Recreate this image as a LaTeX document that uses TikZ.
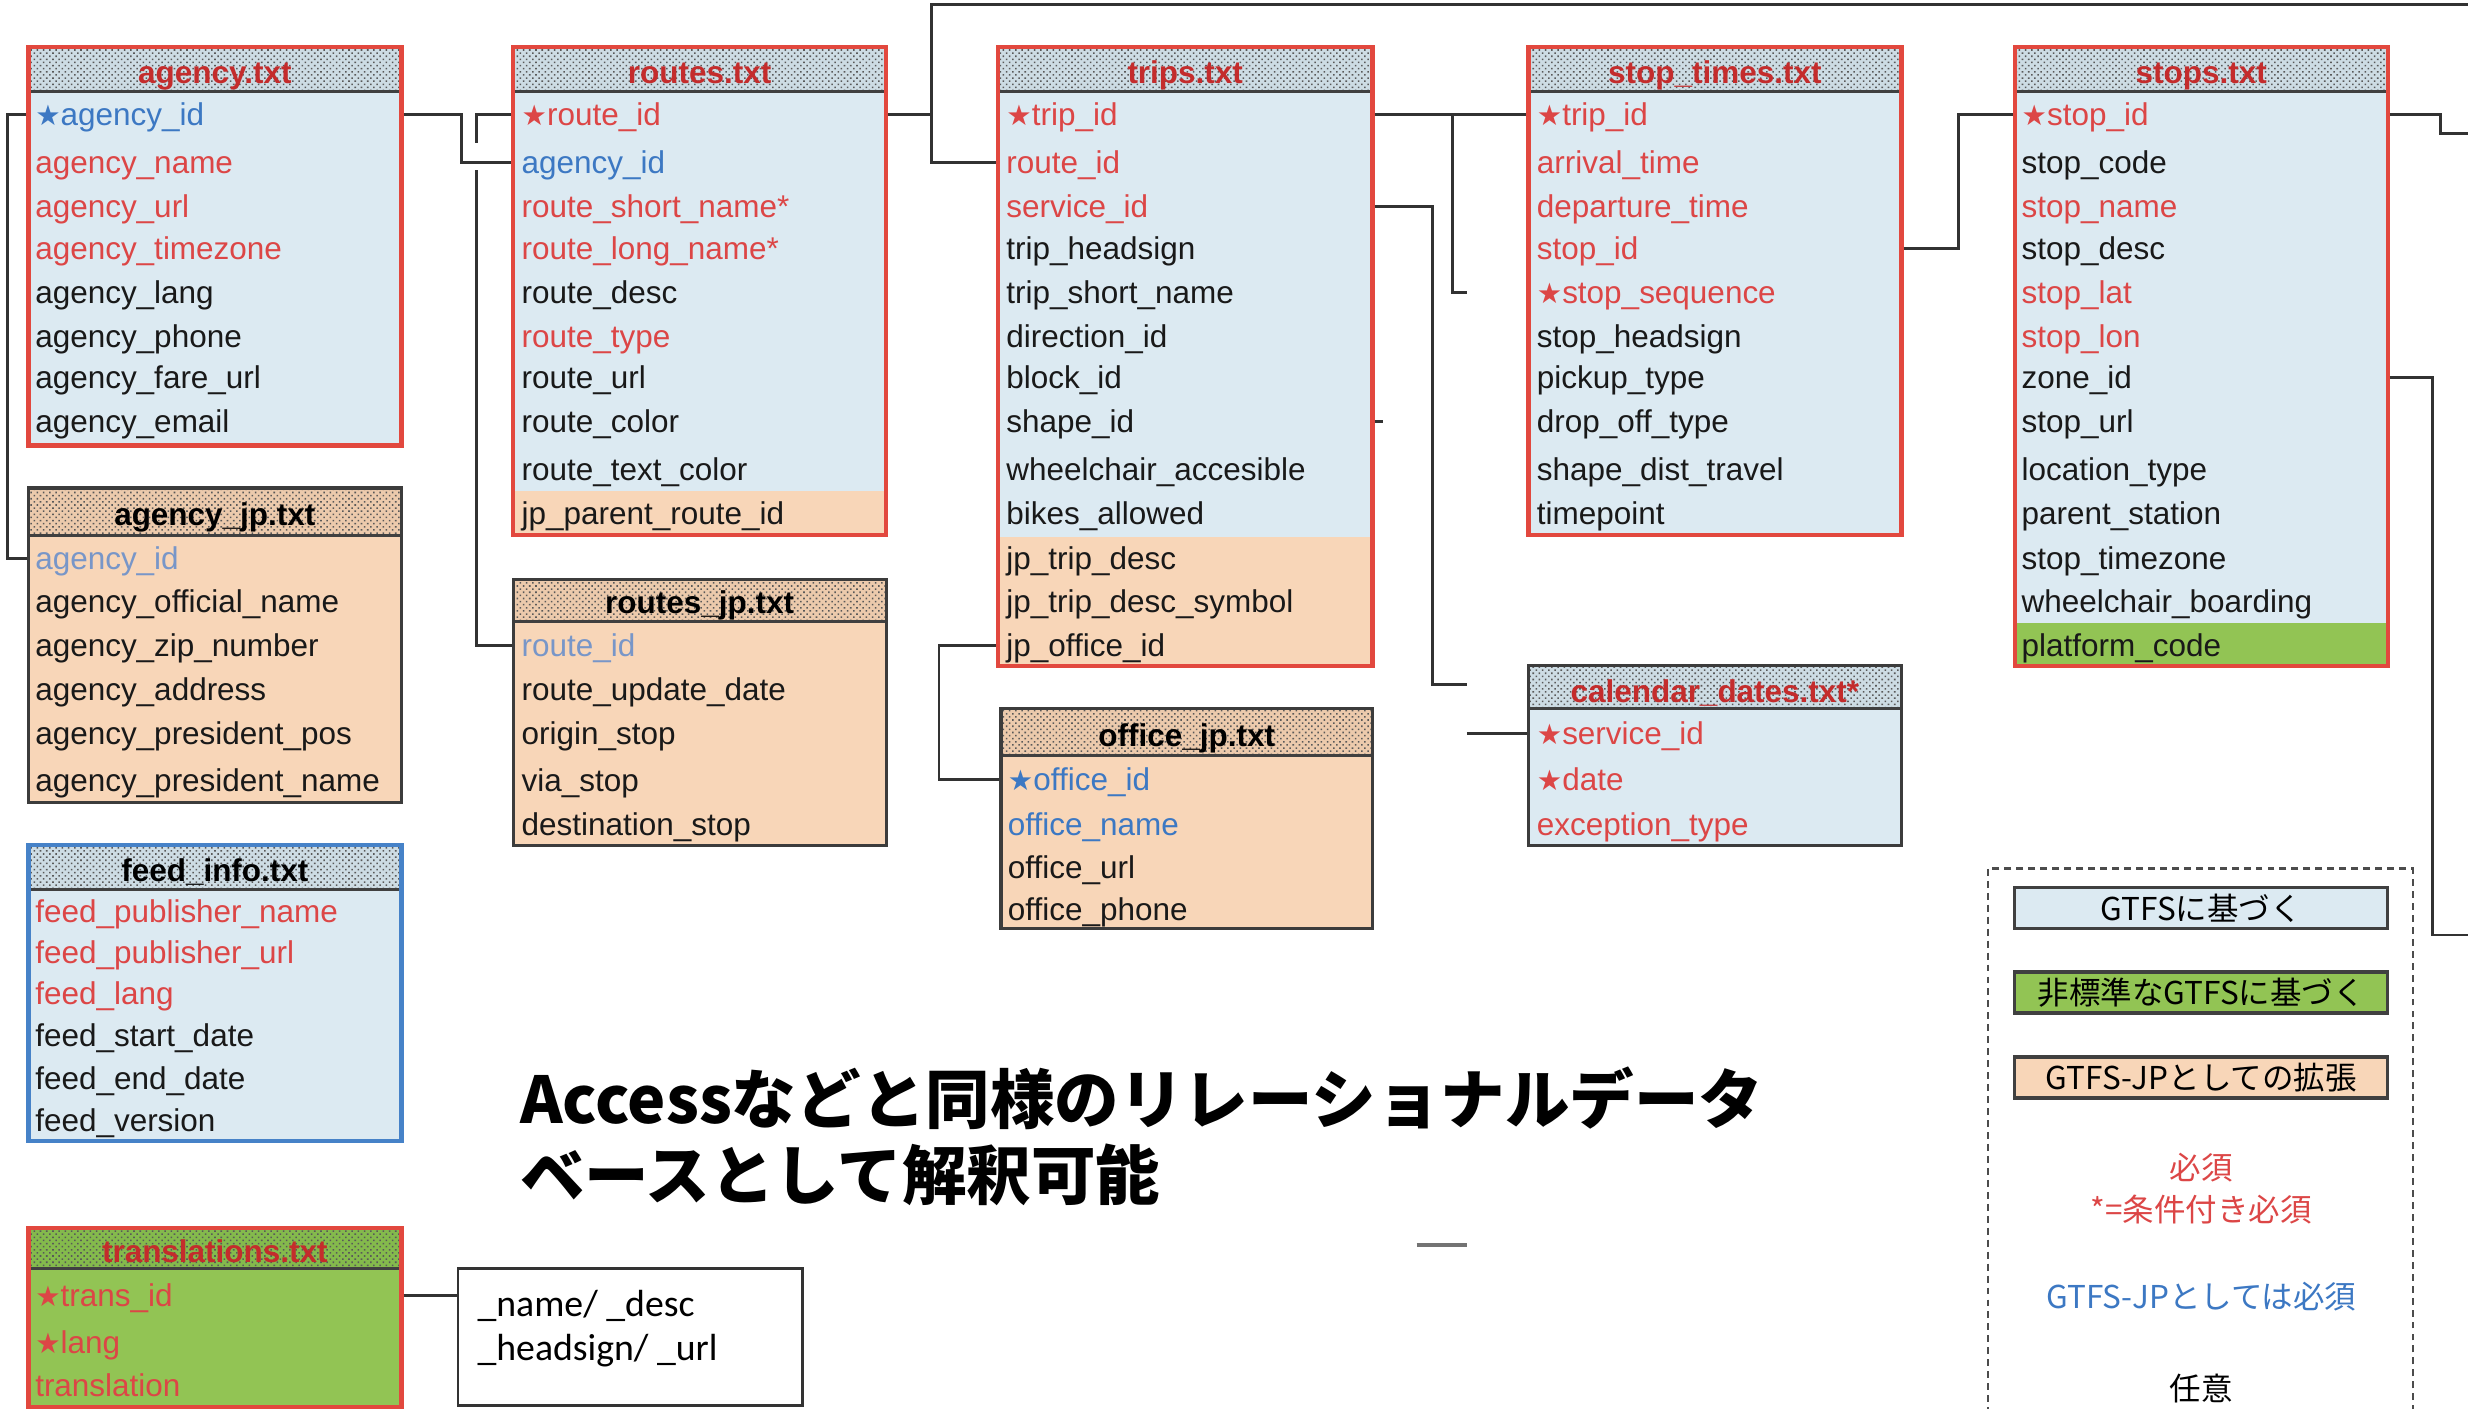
\documentclass[tikz,border=0pt]{standalone}
\usepackage{fontspec}
\setmainfont{Liberation Sans}
\newfontfamily\jpfont{Noto Sans CJK JP}
\newfontfamily\starfont{DejaVu Sans}[Scale=0.9]
\newfontfamily\carfont{Carlito}
\usetikzlibrary{fit,patterns.meta}

\definecolor{gtfsbg}{RGB}{220,234,242}
\definecolor{jpbg}{RGB}{248,214,184}
\definecolor{greenbg}{RGB}{146,196,84}
\definecolor{hdrblue}{RGB}{205,220,228}
\definecolor{hdrpeach}{RGB}{236,202,172}
\definecolor{hdrgreen}{RGB}{132,186,76}
\definecolor{framered}{RGB}{226,72,62}
\definecolor{framedark}{RGB}{60,60,60}
\definecolor{frameblue}{RGB}{70,130,200}
\definecolor{reqred}{RGB}{220,70,70}
\definecolor{hdrred}{RGB}{196,44,44}
\definecolor{jpblue}{RGB}{60,120,195}
\definecolor{fkblue}{RGB}{120,150,200}
\definecolor{linkgray}{RGB}{50,50,50}

\newcommand{\pk}{{\starfont ★}}

\tikzset{
  fld/.style={anchor=west, inner sep=0pt, text height=9pt, text depth=2pt, text=black!90, font=\fontsize{10}{12}\selectfont},
  req/.style={text=reqred},
  jpreq/.style={text=jpblue},
  fkey/.style={text=fkblue},
  hdr/.style={inner sep=0pt, text height=10pt, text depth=2pt, font=\bfseries\fontsize{10}{12}\selectfont},
  hred/.style={text=hdrred},
  tblred/.style={draw=framered, line width=1.4pt, inner sep=0pt},
  tbldark/.style={draw=framedark, line width=1pt, inner sep=0pt},
  tblblue/.style={draw=frameblue, line width=1.4pt, inner sep=0pt},
  hdots/.style={pattern={Dots[angle=45,distance=1.4pt,radius=0.35pt]}, pattern color=black!65},
  hdrfill/.style={fill=#1, postaction={hdots}},
  hline/.style={draw=black!75, line width=0.9pt},
  link/.style={draw=linkgray, line width=0.9pt},
  namebox/.style={draw=black!80, line width=0.9pt, inner sep=0pt},
  swatch/.style={draw=black!75, line width=1.1pt, minimum width=118.5pt, minimum height=13pt, inner sep=0pt, font=\jpfont\fontsize{10}{12}\selectfont},
  note/.style={font=\jpfont\fontsize{10}{13.5}\selectfont, align=center, inner sep=0pt},
  legendbox/.style={draw=black!70, line width=0.9pt, dash pattern=on 2.2pt off 1.6pt}
}

\begin{document}
\begin{tikzpicture}[x=0.5pt,y=-0.5pt]
\useasboundingbox (0,0) rectangle (1568,895);
\fill[white] (0,0) rectangle (1568,895);

% agency.txt
\fill[gtfsbg] (18,30) rectangle (255,283);
\path[hdrfill=hdrblue] (18,30) rectangle (255,58);
\draw[hline] (18,58) -- (255,58);
\node[tblred, fit={(18,30) (255,283)}] (agency) {};
\node[hdr,hred] (agencyT) at (136.5,45) {agency.txt};
\node[fld,jpreq] (ag1) at (22,73) {\pk agency\_id};
\node[fld,req] (ag2) at (22,103) {agency\_name};
\node[fld,req] (ag3) at (22,131) {agency\_url};
\node[fld,req] (ag4) at (22,158) {agency\_timezone};
\node[fld] (ag5) at (22,186) {agency\_lang};
\node[fld] (ag6) at (22,214) {agency\_phone};
\node[fld] (ag7) at (22,240) {agency\_fare\_url};
\node[fld] (ag8) at (22,268) {agency\_email};

% agency_jp.txt
\fill[jpbg] (18,310) rectangle (255,510);
\path[hdrfill=hdrpeach] (18,310) rectangle (255,340);
\draw[hline] (18,340) -- (255,340);
\node[tbldark, fit={(18,310) (255,510)}] (agencyjp) {};
\node[hdr] (agencyjpT) at (136.5,326) {agency\_jp.txt};
\node[fld,fkey] (agj1) at (22,355) {agency\_id};
\node[fld] (agj2) at (22,382) {agency\_official\_name};
\node[fld] (agj3) at (22,410) {agency\_zip\_number};
\node[fld] (agj4) at (22,438) {agency\_address};
\node[fld] (agj5) at (22,466) {agency\_president\_pos};
\node[fld] (agj6) at (22,496) {agency\_president\_name};

% feed_info.txt
\fill[gtfsbg] (18,537) rectangle (255,725);
\path[hdrfill=hdrblue] (18,537) rectangle (255,565);
\draw[hline] (18,565) -- (255,565);
\node[tblblue, fit={(18,537) (255,725)}] (feedinfo) {};
\node[hdr] (feedinfoT) at (136.5,552) {feed\_info.txt};
\node[fld,req] (fi1) at (22,579) {feed\_publisher\_name};
\node[fld,req] (fi2) at (22,605) {feed\_publisher\_url};
\node[fld,req] (fi3) at (22,631) {feed\_lang};
\node[fld] (fi4) at (22,658) {feed\_start\_date};
\node[fld] (fi5) at (22,685) {feed\_end\_date};
\node[fld] (fi6) at (22,712) {feed\_version};

% translations.txt
\fill[greenbg] (18,780) rectangle (255,894);
\path[hdrfill=hdrgreen] (18,780) rectangle (255,806);
\draw[hline] (18,806) -- (255,806);
\node[tblred, fit={(18,780) (255,894)}] (translations) {};
\node[hdr,hred] (translationsT) at (136.5,794) {translations.txt};
\node[fld,req] (tr1) at (22,823) {\pk trans\_id};
\node[fld,req] (tr2) at (22,853) {\pk lang};
\node[fld,req] (tr3) at (22,880) {translation};

\node[namebox, fit={(291,806) (510,893)}] (names) {};
\node[anchor=west, align=left, inner sep=0pt, font=\carfont\fontsize{12}{14}\selectfont] (namelist) at (303,844) {\_name/ \_desc\\\_headsign/ \_url};

% routes.txt
\fill[gtfsbg] (326,30) rectangle (563,340);
\fill[jpbg] (326,312) rectangle (563,340);
\path[hdrfill=hdrblue] (326,30) rectangle (563,58);
\draw[hline] (326,58) -- (563,58);
\node[tblred, fit={(326,30) (563,340)}] (routes) {};
\node[hdr,hred] (routesT) at (444.5,45) {routes.txt};
\node[fld,req] (rt1) at (331,73) {\pk route\_id};
\node[fld,jpreq] (rt2) at (331,103) {agency\_id};
\node[fld,req] (rt3) at (331,131) {route\_short\_name*};
\node[fld,req] (rt4) at (331,158) {route\_long\_name*};
\node[fld] (rt5) at (331,186) {route\_desc};
\node[fld,req] (rt6) at (331,214) {route\_type};
\node[fld] (rt7) at (331,240) {route\_url};
\node[fld] (rt8) at (331,268) {route\_color};
\node[fld] (rt9) at (331,298) {route\_text\_color};
\node[fld] (rt10) at (331,326) {jp\_parent\_route\_id};

% routes_jp.txt
\fill[jpbg] (326,368) rectangle (563,537);
\path[hdrfill=hdrpeach] (326,368) rectangle (563,395);
\draw[hline] (326,395) -- (563,395);
\node[tbldark, fit={(326,368) (563,537)}] (routesjp) {};
\node[hdr] (routesjpT) at (444.5,382) {routes\_jp.txt};
\node[fld,fkey] (rtj1) at (331,410) {route\_id};
\node[fld] (rtj2) at (331,438) {route\_update\_date};
\node[fld] (rtj3) at (331,466) {origin\_stop};
\node[fld] (rtj4) at (331,496) {via\_stop};
\node[fld] (rtj5) at (331,524) {destination\_stop};

% trips.txt
\fill[gtfsbg] (634,30) rectangle (872,423);
\fill[jpbg] (634,341) rectangle (872,423);
\path[hdrfill=hdrblue] (634,30) rectangle (872,58);
\draw[hline] (634,58) -- (872,58);
\node[tblred, fit={(634,30) (872,423)}] (trips) {};
\node[hdr,hred] (tripsT) at (753,45) {trips.txt};
\node[fld,req] (tp1) at (639,73) {\pk trip\_id};
\node[fld,req] (tp2) at (639,103) {route\_id};
\node[fld,req] (tp3) at (639,131) {service\_id};
\node[fld] (tp4) at (639,158) {trip\_headsign};
\node[fld] (tp5) at (639,186) {trip\_short\_name};
\node[fld] (tp6) at (639,214) {direction\_id};
\node[fld] (tp7) at (639,240) {block\_id};
\node[fld] (tp8) at (639,268) {shape\_id};
\node[fld] (tp9) at (639,298) {wheelchair\_accesible};
\node[fld] (tp10) at (639,326) {bikes\_allowed};
\node[fld] (tp11) at (639,355) {jp\_trip\_desc};
\node[fld] (tp12) at (639,382) {jp\_trip\_desc\_symbol};
\node[fld] (tp13) at (639,410) {jp\_office\_id};

% office_jp.txt
\fill[jpbg] (636,450) rectangle (872,590);
\path[hdrfill=hdrpeach] (636,450) rectangle (872,480);
\draw[hline] (636,480) -- (872,480);
\node[tbldark, fit={(636,450) (872,590)}] (officejp) {};
\node[hdr] (officejpT) at (754,466) {office\_jp.txt};
\node[fld,jpreq] (of1) at (640,495) {\pk office\_id};
\node[fld,jpreq] (of2) at (640,524) {office\_name};
\node[fld] (of3) at (640,551) {office\_url};
\node[fld] (of4) at (640,578) {office\_phone};

% stop_times.txt
\fill[gtfsbg] (971,30) rectangle (1208,340);
\path[hdrfill=hdrblue] (971,30) rectangle (1208,58);
\draw[hline] (971,58) -- (1208,58);
\node[tblred, fit={(971,30) (1208,340)}] (stoptimes) {};
\node[hdr,hred] (stoptimesT) at (1089.5,45) {stop\_times.txt};
\node[fld,req] (st1) at (976,73) {\pk trip\_id};
\node[fld,req] (st2) at (976,103) {arrival\_time};
\node[fld,req] (st3) at (976,131) {departure\_time};
\node[fld,req] (st4) at (976,158) {stop\_id};
\node[fld,req] (st5) at (976,186) {\pk stop\_sequence};
\node[fld] (st6) at (976,214) {stop\_headsign};
\node[fld] (st7) at (976,240) {pickup\_type};
\node[fld] (st8) at (976,268) {drop\_off\_type};
\node[fld] (st9) at (976,298) {shape\_dist\_travel};
\node[fld] (st10) at (976,326) {timepoint};

% calendar_dates.txt
\fill[gtfsbg] (971,423) rectangle (1208,537);
\path[hdrfill=hdrblue] (971,423) rectangle (1208,450);
\draw[hline] (971,450) -- (1208,450);
\node[tbldark, fit={(971,423) (1208,537)}] (calendar) {};
\node[hdr,hred] (calendarT) at (1089.5,438) {calendar\_dates.txt*};
\node[fld,req] (cd1) at (976,466) {\pk service\_id};
\node[fld,req] (cd2) at (976,495) {\pk date};
\node[fld,req] (cd3) at (976,524) {exception\_type};

% stops.txt
\fill[gtfsbg] (1280,30) rectangle (1517,423);
\fill[greenbg] (1280,396) rectangle (1517,423);
\path[hdrfill=hdrblue] (1280,30) rectangle (1517,58);
\draw[hline] (1280,58) -- (1517,58);
\node[tblred, fit={(1280,30) (1517,423)}] (stops) {};
\node[hdr,hred] (stopsT) at (1398.5,45) {stops.txt};
\node[fld,req] (sp1) at (1284,73) {\pk stop\_id};
\node[fld] (sp2) at (1284,103) {stop\_code};
\node[fld,req] (sp3) at (1284,131) {stop\_name};
\node[fld] (sp4) at (1284,158) {stop\_desc};
\node[fld,req] (sp5) at (1284,186) {stop\_lat};
\node[fld,req] (sp6) at (1284,214) {stop\_lon};
\node[fld] (sp7) at (1284,240) {zone\_id};
\node[fld] (sp8) at (1284,268) {stop\_url};
\node[fld] (sp9) at (1284,298) {location\_type};
\node[fld] (sp10) at (1284,326) {parent\_station};
\node[fld] (sp11) at (1284,355) {stop\_timezone};
\node[fld] (sp12) at (1284,382) {wheelchair\_boarding};
\node[fld] (sp13) at (1284,410) {platform\_code};

% legend
\draw[legendbox] (1263,552) rectangle (1533,905);
\node[swatch, fill=gtfsbg] (lgGtfs) at (1398.5,577) {GTFSに基づく};
\node[swatch, fill=greenbg] (lgExt) at (1398.5,630.5) {非標準なGTFSに基づく};
\node[swatch, fill=jpbg] (lgJp) at (1398.5,684.5) {GTFS-JPとしての拡張};
\node[note, text=reqred] (lgReq) at (1398.5,755) {必須\\*=条件付き必須};
\node[note, text=jpblue] (lgJpReq) at (1398.5,824) {GTFS-JPとしては必須};
\node[note] (lgOpt) at (1398.5,882) {任意};

\node[anchor=west, align=left, inner sep=0pt, font=\jpfont\bfseries\fontsize{20.5}{24}\selectfont] (claim) at (330,722) {Accessなどと同様のリレーショナルデータ\\ベースとして解釈可能};

% links
\coordinate (hub) at (592,3);
\coordinate (rimtop) at (1575,3);
\coordinate (tap) at (923,0);
\coordinate (cut) at (932,0);
\coordinate (svc) at (910,435);
\coordinate (zone) at (1575,594);
\coordinate (loose) at (900,791);

\draw[link] (ag1 -| agency.west) -- ++(-12,0) |- (agj1 -| agencyjp.west);
\draw[link] (rt1 -| routes.west) -- ++(-22,0) |- (rtj1 -| routesjp.west);
\fill[white] (300,91) rectangle (308,108);
\draw[link] (ag1 -| agency.east) -- ++(37,0) |- (rt2 -| routes.west);
\draw[link] (rt1 -| routes.east) -- (rt1 -| hub);
\draw[link] (rimtop) -- (hub) |- (tp2 -| trips.west);
\draw[link] (tp1 -| trips.east) -- (st1 -| stoptimes.west);
\draw[link] (tp1 -| tap) |- (st5 -| cut);
\draw[link] (tp3 -| trips.east) -| (svc) -- (svc -| cut);
\draw[link] (cd1 -| cut) -- (cd1 -| calendar.west);
\draw[link] (tp8 -| trips.east) -- ++(5,0);
\draw[link] (tp13 -| trips.west) -- ++(-36,0) |- (of1 -| officejp.west);
\draw[link] (st4 -| stoptimes.east) -- ++(35,0) |- (sp1 -| stops.west);
\draw[link] (sp1 -| stops.east) -- ++(32,0) -- ++(0,12) -- ++(30,0);
\draw[link] (sp7 -| stops.east) -- ++(27,0) |- (zone);
\draw[link] (tr1 -| translations.east) -- (tr1 -| names.west);
\draw[link, draw=black!55, line width=1.2pt] (loose) -- ++(32,0);
\end{tikzpicture}
\end{document}
